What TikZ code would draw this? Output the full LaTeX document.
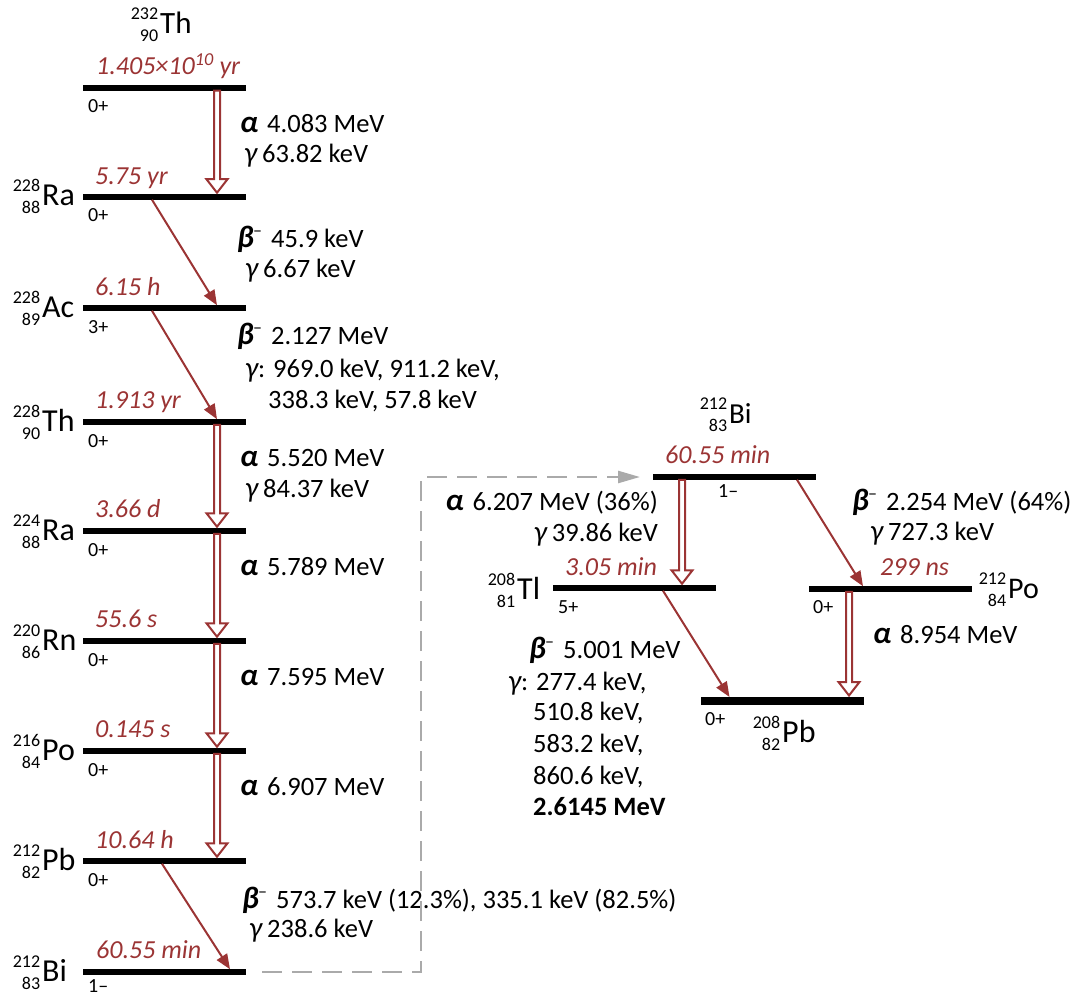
\documentclass[tikz,border=0pt]{standalone}
\usepackage{fontspec}
\setmainfont{Carlito}
\usetikzlibrary{arrows.meta,calc}
\definecolor{dred}{RGB}{155,52,52}
\definecolor{dgray}{RGB}{170,170,170}
\newcommand\gA{\makebox[27pt][l]{\fontsize{31}{31}\selectfont\bfseries\itshape α}}
\newcommand\gB{\makebox[34pt][l]{{\fontsize{31}{31}\selectfont\bfseries\itshape β}\kern-1pt\raisebox{11pt}{\fontsize{18}{18}\selectfont –}}}
\newcommand\gG{\makebox[18pt][l]{\fontsize{29}{29}\selectfont\itshape γ}}
\newcommand\gGc{{\fontsize{29}{29}\selectfont\itshape γ}}
\newcommand\nucl[4]{\fontsize{#1}{#1}\selectfont\llap{\raisebox{-8pt}{\fontsize{18}{22}\selectfont\begin{tabular}[b]{@{}r@{}}#2\\#3\end{tabular}}\hspace{2pt}}#4}
\tikzset{
  level/.style={fill=black, minimum width=163pt, minimum height=5.5pt, inner sep=0pt, outer sep=0pt},
  hl/.style={font=\fontsize{26}{26}\selectfont\itshape, text=dred, anchor=base west, inner sep=0pt},
  spin/.style={font=\fontsize{20}{20}\selectfont, anchor=base west, inner sep=0pt},
  dec/.style={font=\fontsize{26.5}{26.5}\selectfont, anchor=base west, inner sep=0pt},
  nuc/.style={anchor=base west, inner sep=0pt},
  betaarr/.style={draw=dred, line width=2pt, -{Triangle[length=15pt,width=12pt]}},
  alphaarr/.style={draw=dred, fill=white, line width=2pt, line join=miter,
    to path={let \p1=(\tikztostart), \p2=(\tikztotarget) in
      (\x1-3pt,\y1) -- (\x1-3pt,\y2+15pt) -- (\x1-10.5pt,\y2+15pt) -- (\x1,\y2+1.5pt)
      -- (\x1+10.5pt,\y2+15pt) -- (\x1+3pt,\y2+15pt) -- (\x1+3pt,\y1) -- cycle}},
  dashconn/.style={draw=dgray, line width=2.5pt, dash pattern=on 20pt off 10pt, -{Triangle[length=22pt,width=12pt]}}
}
\begin{document}
\begin{tikzpicture}[x=1pt,y=-1pt]
\useasboundingbox (0,0) rectangle (1073,1000);
% ---- levels (left chain)
\node[level] (th232) at (164.5,88) {};
\node[level] (ra228) at (164.5,197) {};
\node[level] (ac228) at (164.5,308) {};
\node[level] (th228) at (164.5,422) {};
\node[level] (ra224) at (164.5,531) {};
\node[level] (rn220) at (164.5,641) {};
\node[level] (po216) at (164.5,751) {};
\node[level] (pb212) at (164.5,861) {};
\node[level] (bi212) at (164.5,972) {};
% ---- levels (right)
\node[level] (bi212r) at (734.5,477) {};
\node[level] (tl208) at (634.5,588) {};
\node[level] (po212) at (890.5,589) {};
\node[level, minimum height=8pt] (pb208) at (782,701) {};
% ---- nuclide labels
\node[nuc] (lth232) at (160,34) {\nucl{31}{232}{90}{Th}};
\node[nuc] (lra228) at (42,206) {\nucl{32}{228}{88}{Ra}};
\node[nuc] (lac228) at (42,317) {\nucl{32}{228}{89}{Ac}};
\node[nuc] (lth228) at (42,431) {\nucl{32}{228}{90}{Th}};
\node[nuc] (lra224) at (42,540) {\nucl{32}{224}{88}{Ra}};
\node[nuc] (lrn220) at (42,650) {\nucl{32}{220}{86}{Rn}};
\node[nuc] (lpo216) at (42,760) {\nucl{32}{216}{84}{Po}};
\node[nuc] (lpb212) at (42,870) {\nucl{32}{212}{82}{Pb}};
\node[nuc] (lbi212) at (42,981) {\nucl{32}{212}{83}{Bi}};
\node[nuc] (lbi212r) at (729,423) {\nucl{29}{212}{83}{Bi}};
\node[nuc] (ltl208) at (517,599) {\nucl{32}{208}{81}{Tl}};
\node[nuc] (lpo212) at (1008,598) {\nucl{30}{212}{84}{Po}};
\node[nuc] (lpb208) at (782,742) {\nucl{32}{208}{82}{Pb}};
% ---- half-lives
\node[hl] (h1) at (96,75) {1.405×10\textsuperscript{10} yr};
\node[hl] (h2) at (95,185) {5.75 yr};
\node[hl] (h3) at (95,295) {6.15 h};
\node[hl] (h4) at (95,408) {1.913 yr};
\node[hl] (h5) at (95,517) {3.66 d};
\node[hl] (h6) at (95,627) {55.6 s};
\node[hl] (h7) at (95,737) {0.145 s};
\node[hl] (h8) at (95,848) {10.64 h};
\node[hl] (h9) at (96,958) {60.55 min};
\node[hl] (h10) at (665,463) {60.55 min};
\node[hl] (h11) at (565,575) {3.05 min};
\node[hl] (h12) at (880,575) {299 ns};
% ---- spins
\node[spin] (s1) at (88,113) {0+};
\node[spin] (s2) at (88,222) {0+};
\node[spin] (s3) at (88,333) {3+};
\node[spin] (s4) at (88,447) {0+};
\node[spin] (s5) at (88,556) {0+};
\node[spin] (s6) at (88,666) {0+};
\node[spin] (s7) at (88,776) {0+};
\node[spin] (s8) at (88,886) {0+};
\node[spin] (s9) at (88,992) {1–};
\node[spin] (s10) at (718,497) {1–};
\node[spin] (s11) at (558,613) {5+};
\node[spin] (s12) at (813,613) {0+};
\node[spin] (s13) at (705,725) {0+};
% ---- decay texts
\node[dec] (d1a) at (240,133) {\gA 4.083 MeV};
\node[dec] (d1b) at (244,163) {\gG 63.82 keV};
\node[dec] (d2a) at (237,248) {\gB 45.9 keV};
\node[dec] (d2b) at (245,277) {\gG 6.67 keV};
\node[dec] (d3a) at (237,344) {\gB 2.127 MeV};
\node[dec] (d3b) at (245,377) {\gGc: 969.0 keV, 911.2 keV,};
\node[dec] (d3c) at (268,408) {338.3 keV, 57.8 keV};
\node[dec] (d4a) at (240,466) {\gA 5.520 MeV};
\node[dec] (d4b) at (245,497) {\gG 84.37 keV};
\node[dec] (d5a) at (240,575) {\gA 5.789 MeV};
\node[dec] (d6a) at (240,685) {\gA 7.595 MeV};
\node[dec] (d7a) at (240,795) {\gA 6.907 MeV};
\node[dec] (d8a) at (242,908) {\gB 573.7 keV (12.3\%), 335.1 keV (82.5\%)};
\node[dec] (d8b) at (249,937) {\gG 238.6 keV};
\node[dec, anchor=base east] (d9a) at (658,510) {\gA 6.207 MeV (36\%)};
\node[dec, anchor=base east] (d9b) at (658,541) {\gG 39.86 keV};
\node[dec] (d10a) at (852,510) {\gB 2.254 MeV (64\%)};
\node[dec] (d10b) at (870,540) {\gG 727.3 keV};
\node[dec] (d11a) at (873,643) {\gA 8.954 MeV};
\node[dec] (d12a) at (529,658) {\gB 5.001 MeV};
\node[dec] (d12b) at (508,690) {\gGc: 277.4 keV,};
\node[dec] (d12c) at (533,720) {510.8 keV,};
\node[dec] (d12d) at (533,752) {583.2 keV,};
\node[dec] (d12e) at (533,784) {860.6 keV,};
\node[dec] (d12f) at (533,815) {\textbf{2.6145 MeV}};
% ---- arrow end points
\coordinate (a1s) at ([xshift=134pt]th232.south west);
\coordinate (a1e) at ([xshift=134pt]ra228.north west);
\coordinate (a2s) at ([xshift=134pt]th228.south west);
\coordinate (a2e) at ([xshift=134pt]ra224.north west);
\coordinate (a3s) at ([xshift=134pt]ra224.south west);
\coordinate (a3e) at ([xshift=134pt]rn220.north west);
\coordinate (a4s) at ([xshift=134pt]rn220.south west);
\coordinate (a4e) at ([xshift=134pt]po216.north west);
\coordinate (a5s) at ([xshift=134pt]po216.south west);
\coordinate (a5e) at ([xshift=134pt]pb212.north west);
\coordinate (a6s) at ([xshift=29pt]bi212r.south west);
\coordinate (a6e) at ([xshift=129pt]tl208.north west);
\coordinate (a7s) at ([xshift=40pt]po212.south west);
\coordinate (a7e) at ([xshift=148pt]pb208.north west);
% ---- beta decays
\draw[betaarr] ([xshift=69pt]ra228.south west) -- ([xshift=134pt]ac228.north west);
\draw[betaarr] ([xshift=69pt]ac228.south west) -- ([xshift=134pt]th228.north west);
\draw[betaarr] ([xshift=79pt]pb212.south west) -- ([xshift=147pt]bi212.north west);
\draw[betaarr] ([xshift=144pt]bi212r.south west) -- ([xshift=54pt]po212.north west);
\draw[betaarr] ([xshift=110pt]tl208.south west) -- ([xshift=29pt]pb208.north west);
% ---- alpha decays
\draw[alphaarr] (a1s) to (a1e);
\draw[alphaarr] (a2s) to (a2e);
\draw[alphaarr] (a3s) to (a3e);
\draw[alphaarr] (a4s) to (a4e);
\draw[alphaarr] (a5s) to (a5e);
\draw[alphaarr] (a6s) to (a6e);
\draw[alphaarr] (a7s) to (a7e);
% ---- link between the two 212Bi levels
\draw[dashconn] ([xshift=16pt]bi212.east) -| ([xshift=-232pt]bi212r.west) -- ([xshift=-13pt]bi212r.west);
\end{tikzpicture}
\end{document}
